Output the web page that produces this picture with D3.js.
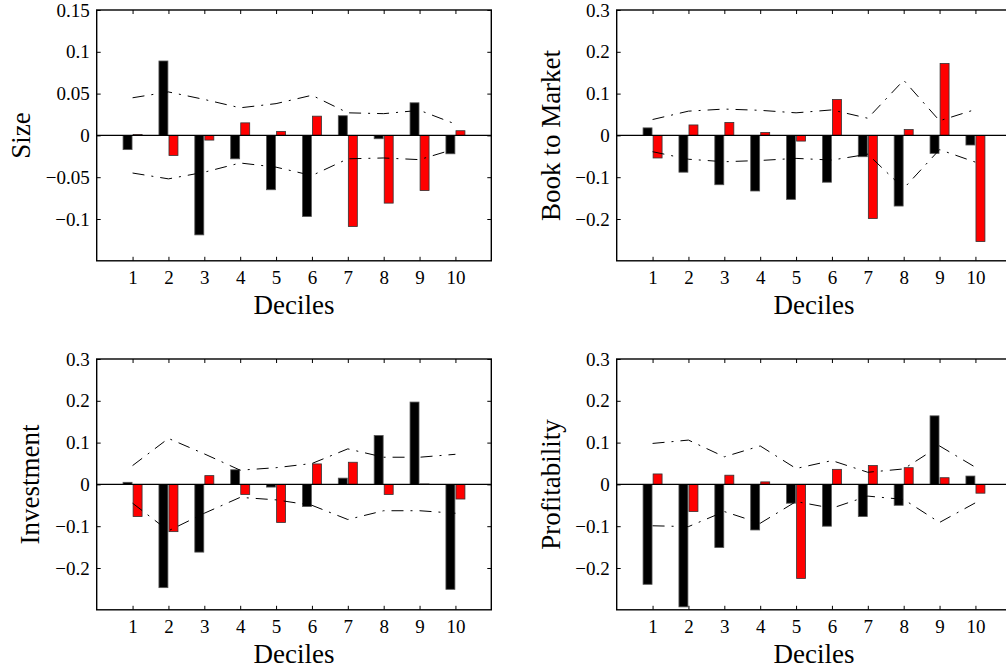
<!DOCTYPE html>
<html>
<head>
<meta charset="utf-8">
<script src="https://cdn.jsdelivr.net/npm/d3@7"></script>
<style>
  body { margin: 0; background: #fff; }
  text { font-family: "Liberation Serif", "Times New Roman", serif; fill: #000; }
</style>
</head>
<body>
<script>
var width = 1006;
var height = 670;

var deciles = [1, 2, 3, 4, 5, 6, 7, 8, 9, 10];

// Size
var sizeBlack = [-0.017, 0.089, -0.119, -0.028, -0.065, -0.097, 0.0235, -0.004, 0.039, -0.022];
var sizeRed   = [0.001, -0.024, -0.0056, 0.015, 0.0048, 0.023, -0.109, -0.081, -0.066, 0.0056];
var sizeUp    = [0.045, 0.052, 0.043, 0.033, 0.038, 0.048, 0.027, 0.026, 0.030, 0.0136];
var sizeLo    = [-0.045, -0.052, -0.044, -0.033, -0.038, -0.048, -0.028, -0.027, -0.029, -0.016];

// Book to Market
var bmBlack = [0.018, -0.088, -0.118, -0.133, -0.153, -0.112, -0.051, -0.169, -0.043, -0.023];
var bmRed   = [-0.054, 0.025, 0.031, 0.007, -0.0136, 0.086, -0.199, 0.014, 0.172, -0.254];
var bmUp    = [0.038, 0.058, 0.063, 0.060, 0.054, 0.061, 0.041, 0.132, 0.035, 0.062];
var bmLo    = [-0.039, -0.057, -0.063, -0.060, -0.055, -0.059, -0.045, -0.127, -0.034, -0.064];

// Investment
var invBlack = [0.005, -0.247, -0.162, 0.035, -0.0064, -0.053, 0.015, 0.117, 0.197, -0.251];
var invRed   = [-0.077, -0.113, 0.021, -0.024, -0.091, 0.049, 0.053, -0.024, 0.001, -0.035];
var invUp    = [0.045, 0.110, 0.073, 0.034, 0.040, 0.050, 0.085, 0.065, 0.065, 0.072];
var invLo    = [-0.045, -0.111, -0.069, -0.031, -0.037, -0.050, -0.084, -0.063, -0.063, -0.069];

// Profitability
var profBlack = [-0.239, -0.293, -0.151, -0.109, -0.045, -0.100, -0.077, -0.050, 0.164, 0.020];
var profRed   = [0.025, -0.065, 0.022, 0.006, -0.225, 0.036, 0.045, 0.040, 0.016, -0.021];
var profUp    = [0.098, 0.106, 0.066, 0.092, 0.038, 0.057, 0.029, 0.037, 0.092, 0.041];
var profLo    = [-0.099, -0.101, -0.065, -0.093, -0.041, -0.057, -0.028, -0.036, -0.091, -0.044];

var smallTicks = [-0.1, -0.05, 0, 0.05, 0.1, 0.15];
var bigTicks = [-0.2, -0.1, 0, 0.1, 0.2, 0.3];

var panels = [
  {label: "Size", black: sizeBlack, red: sizeRed, up: sizeUp, lo: sizeLo,
   ymax: 0.15, ticks: smallTicks, left: 96.7, top: 10, labelX: 30},
  {label: "Book to Market", black: bmBlack, red: bmRed, up: bmUp, lo: bmLo,
   ymax: 0.3, ticks: bigTicks, left: 616.7, top: 10, labelX: 560},
  {label: "Investment", black: invBlack, red: invRed, up: invUp, lo: invLo,
   ymax: 0.3, ticks: bigTicks, left: 96.7, top: 359, labelX: 39},
  {label: "Profitability", black: profBlack, red: profRed, up: profUp, lo: profLo,
   ymax: 0.3, ticks: bigTicks, left: 616.7, top: 359, labelX: 560}
];

var plotW = 394.6;
var plotH = 250.8;
var barW = 0.25;

var svg = d3.select("body")
  .append("svg")
  .attr("width", width)
  .attr("height", height);

function fmt(v) {
  var s = d3.format("~g")(Math.abs(v));
  return v < 0 ? "\u2212" + s : s;
}

panels.forEach(function(p) {
  var x = d3.scaleLinear()
    .domain([0, 11])
    .range([p.left, p.left + plotW]);
  var y = d3.scaleLinear()
    .domain([-p.ymax, p.ymax])
    .range([p.top + plotH, p.top]);

  var g = svg.append("g");

  // bars
  g.selectAll("rect.black")
    .data(deciles)
    .enter()
    .append("rect")
      .attr("x", function(d) { return x(d - 0.265); })
      .attr("width", x(barW) - x(0))
      .attr("y", function(d, i) { return y(Math.max(0, p.black[i])); })
      .attr("height", function(d, i) { return Math.abs(y(p.black[i]) - y(0)); })
      .attr("fill", "#000")
      .attr("stroke", "#555")
      .attr("stroke-width", 0.8);

  g.selectAll("rect.red")
    .data(deciles)
    .enter()
    .append("rect")
      .attr("x", function(d) { return x(d + 0.015); })
      .attr("width", x(barW) - x(0))
      .attr("y", function(d, i) { return y(Math.max(0, p.red[i])); })
      .attr("height", function(d, i) { return Math.abs(y(p.red[i]) - y(0)); })
      .attr("fill", "#ff0000")
      .attr("stroke", "#333")
      .attr("stroke-width", 0.8);

  // zero line
  g.append("line")
    .attr("x1", x(0)).attr("x2", x(11))
    .attr("y1", y(0)).attr("y2", y(0))
    .attr("stroke", "#000")
    .attr("stroke-width", 1.1);

  // confidence bands
  [p.up, p.lo].forEach(function(band) {
    var line = d3.line()
      .x(function(d) { return x(d); })
      .y(function(d, i) { return y(band[i]); });
    g.append("path")
      .attr("d", line(deciles))
      .attr("fill", "none")
      .attr("stroke", "#000")
      .attr("stroke-width", 1)
      .attr("stroke-dasharray", "12,7,2,7");
  });

  // axes with inward ticks
  var bottom = g.append("g")
    .attr("transform", "translate(0," + y(-p.ymax) + ")")
    .call(d3.axisBottom(x).tickValues(deciles).tickSize(-4).tickPadding(10));
  var top = g.append("g")
    .attr("transform", "translate(0," + y(p.ymax) + ")")
    .call(d3.axisTop(x).tickValues(deciles).tickSize(-4).tickFormat(""));
  var left = g.append("g")
    .attr("transform", "translate(" + x(0) + ",0)")
    .call(d3.axisLeft(y).tickValues(p.ticks).tickSize(-4).tickPadding(7).tickFormat(fmt));
  var right = g.append("g")
    .attr("transform", "translate(" + x(11) + ",0)")
    .call(d3.axisRight(y).tickValues(p.ticks).tickSize(-4).tickFormat(""));

  [bottom, top, left, right].forEach(function(a) {
    a.select(".domain").remove();
    a.selectAll("line").attr("stroke", "#000").attr("stroke-width", 1);
    a.selectAll("text")
      .attr("font-family", "Liberation Serif, Times New Roman, serif")
      .attr("font-size", 19)
      .attr("fill", "#000");
  });

  // frame
  g.append("rect")
    .attr("x", x(0))
    .attr("y", y(p.ymax))
    .attr("width", x(11) - x(0))
    .attr("height", y(-p.ymax) - y(p.ymax))
    .attr("fill", "none")
    .attr("stroke", "#000")
    .attr("stroke-width", 1.4);

  // axis titles
  g.append("text")
    .attr("x", (x(0) + x(11)) / 2)
    .attr("y", y(-p.ymax) + 52.7)
    .attr("text-anchor", "middle")
    .attr("font-size", 27)
    .text("Deciles");

  g.append("text")
    .attr("transform", "translate(" + p.labelX + "," + (y(0)) + ") rotate(-90)")
    .attr("text-anchor", "middle")
    .attr("font-size", 27)
    .text(p.label);
});
</script>
</body>
</html>
